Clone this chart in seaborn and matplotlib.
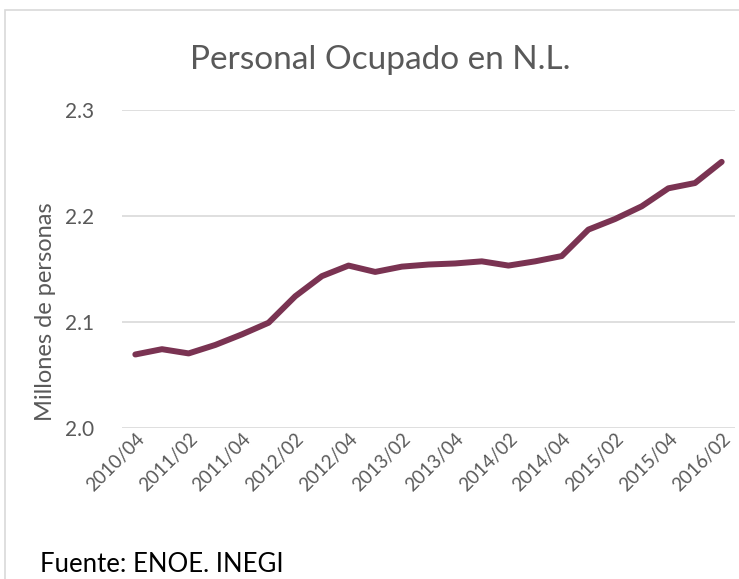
import matplotlib
matplotlib.use("Agg")
import matplotlib.pyplot as plt
import seaborn as sns
import pandas as pd
from matplotlib.patches import Rectangle

quarters = [
    "2010/04", "2011/01", "2011/02", "2011/03", "2011/04",
    "2012/01", "2012/02", "2012/03", "2012/04",
    "2013/01", "2013/02", "2013/03", "2013/04",
    "2014/01", "2014/02", "2014/03", "2014/04",
    "2015/01", "2015/02", "2015/03", "2015/04",
    "2016/01", "2016/02",
]
ocupados = [
    2.069, 2.074, 2.070, 2.078, 2.088,
    2.099, 2.124, 2.143, 2.153,
    2.147, 2.152, 2.154, 2.155,
    2.157, 2.153, 2.157, 2.162,
    2.187, 2.197, 2.209, 2.226,
    2.231, 2.251,
]
y_ticks = [2.0, 2.1, 2.2, 2.3]
y_tick_labels = ["2.0", "2.1", "2.2", "2.3"]

df = pd.DataFrame({"pos": range(len(quarters)), "trimestre": quarters, "valor": ocupados})

sns.set_theme(style="white")
plt.rcParams["font.family"] = ["Lato", "DejaVu Sans"]

fig = plt.figure(figsize=(7.39, 5.79), dpi=100)
ax = fig.add_axes([122/739, 1 - 427.5/579, (735-122)/739, (427.5-110)/579])

sns.lineplot(data=df, x="pos", y="valor", ax=ax, color="#7A3352", linewidth=4.3,
             solid_capstyle="round", solid_joinstyle="round")

ax.set_xlim(-0.5, len(quarters) - 0.5)
ax.set_ylim(2.0, 2.3)
ax.set_yticks(y_ticks)
ax.set_yticklabels(y_tick_labels, fontsize=15, color="#595959")
tick_pos = list(range(0, len(quarters), 2))
ax.set_xticks(tick_pos)
ax.set_xticklabels([quarters[i] for i in tick_pos], rotation=45, ha="right",
                   rotation_mode="anchor", fontsize=13.5, color="#595959")
ax.tick_params(axis="x", length=0, pad=2)
ax.tick_params(axis="y", length=0, pad=20)
ax.grid(axis="y", color="#D9D9D9", linewidth=1.2)
ax.set_axisbelow(True)
for s in ax.spines.values():
    s.set_visible(False)
ax.set_xlabel("")
ax.set_ylabel("Millones de personas", fontsize=17, color="#595959")
ax.yaxis.set_label_coords((56-122)/613, (427.5-312)/317.5)

fig.text(380/739, 1 - 60/579, "Personal Ocupado en N.L.", ha="center", va="center",
         fontsize=24, color="#595959")
fig.text(40/739, 1 - 565/579, "Fuente: ENOE. INEGI", ha="left", va="center",
         fontsize=18.5, color="#000000")

fig.patches.append(Rectangle((5/739, -0.1), 1.2, 1.1 - 10/579, transform=fig.transFigure,
                             fill=False, edgecolor="#D9D9D9", linewidth=1.2))

fig.savefig("out.png", dpi=100)
